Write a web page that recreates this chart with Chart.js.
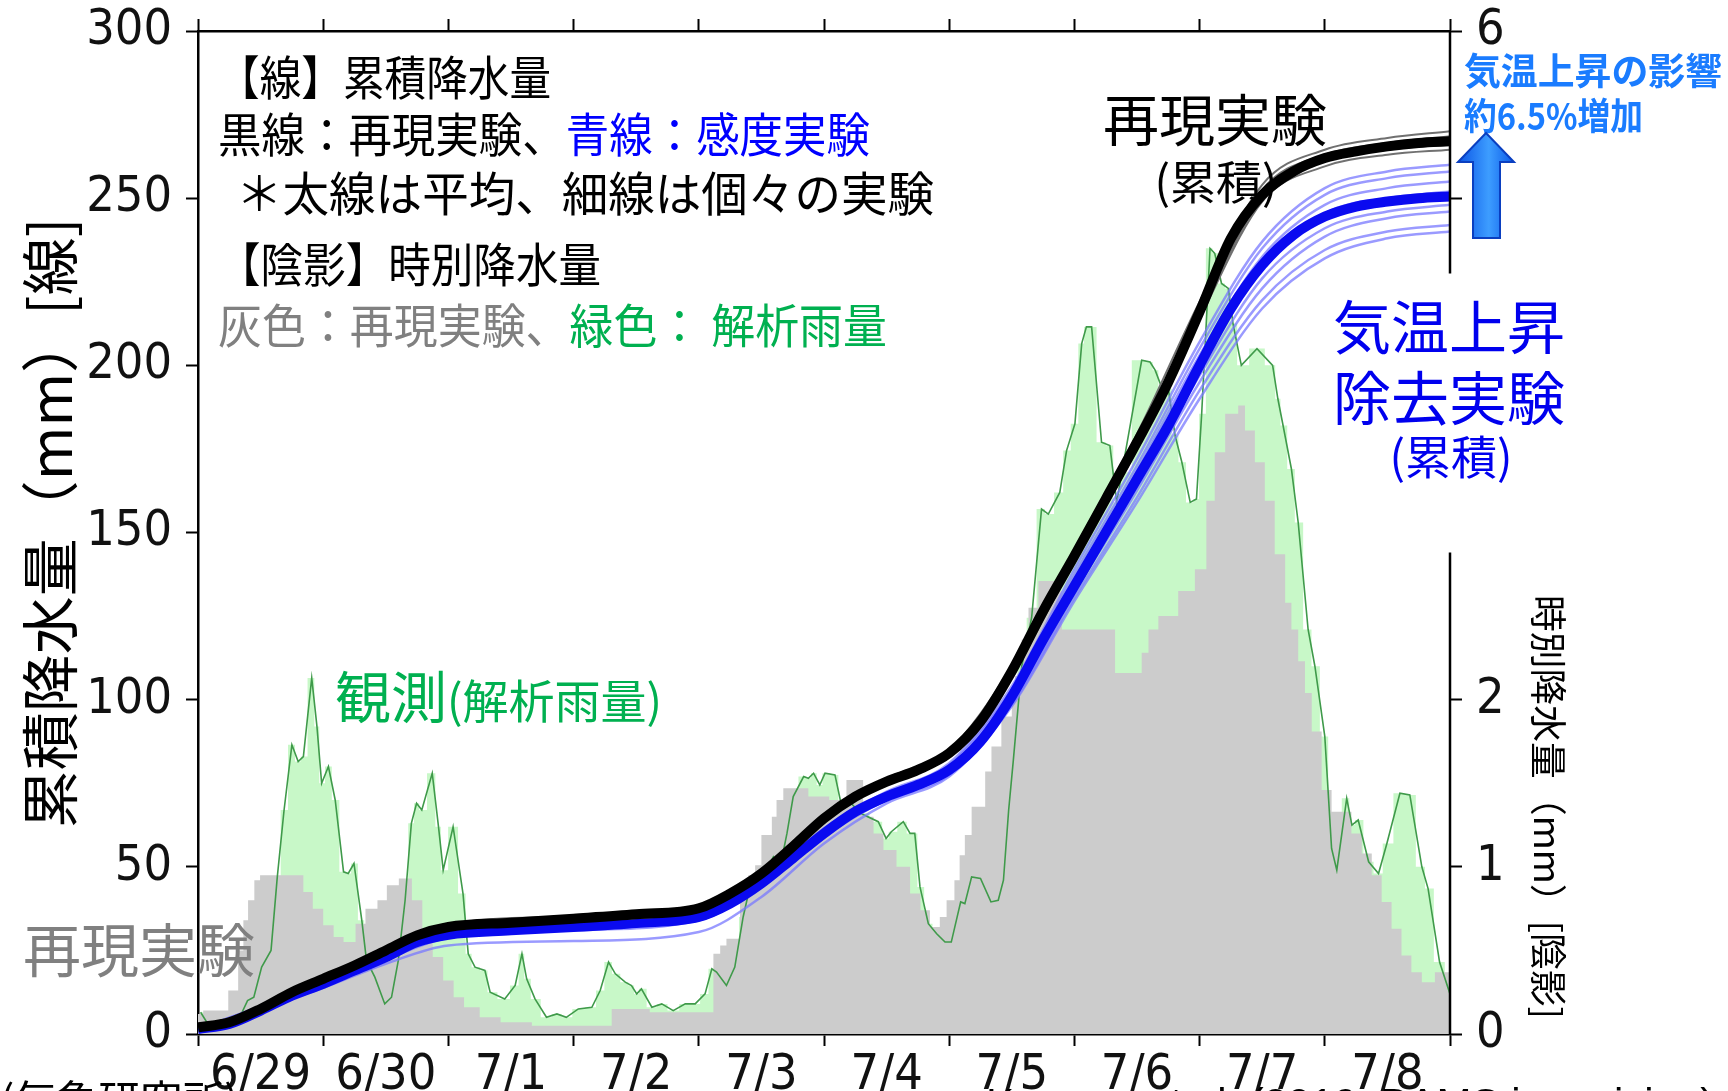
<!DOCTYPE html>
<html lang="ja">
<head>
<meta charset="utf-8">
<title>累積降水量 再現実験と気温上昇除去実験</title>
<script src="https://cdn.jsdelivr.net/npm/chart.js@4.4.1/dist/chart.umd.min.js"></script>
<style>
  html, body { margin: 0; padding: 0; background: #fff; }
  #wrap { position: relative; width: 1728px; height: 1091px; overflow: hidden; }
</style>
</head>
<body>
<div id="wrap"><canvas id="chart"></canvas></div>
<script>
// ---- data ----
const dayLabels = ['6/29', '6/30', '7/1', '7/2', '7/3', '7/4', '7/5', '7/6', '7/7', '7/8'];

// hourly precipitation, simulation (grey shading), mm/h, step starts
const grayHours = [0, 1, 5.8, 7.7, 8.7, 9.6, 10.8, 11.9, 20.2, 22, 24, 26, 27.9, 30.2, 32.1, 34.4, 36.2, 38.5, 41, 43, 45, 47, 49, 51, 54, 58, 64, 79.3, 86.6, 98.8, 100.1, 101.3, 103.9, 105.5, 106.8, 108, 110, 110.9, 112.2, 117, 121, 124.3, 127.5, 129.5, 131.4, 133.9, 136.5, 138.5, 140.3, 142.2, 143.5, 145, 146, 147, 148.3, 150.9, 152.1, 154, 156, 156.6, 157.9, 159.2, 161.1, 164.3, 165.6, 175.8, 180.9, 182.2, 184.1, 187.9, 191.1, 193.3, 194.9, 196.9, 199.4, 200.7, 202.6, 204.5, 206.4, 208.4, 209.6, 210.9, 212.2, 213.5, 215.4, 217.3, 221.1, 223.1, 225, 226.9, 228.8, 230.7, 232.6, 234.6, 237.1, 240];
const grayValues = [0.12, 0.14, 0.26, 0.5, 0.68, 0.8, 0.92, 0.95, 0.85, 0.75, 0.65, 0.58, 0.55, 0.66, 0.75, 0.8, 0.89, 0.93, 0.8, 0.62, 0.46, 0.32, 0.22, 0.16, 0.1, 0.07, 0.05, 0.15, 0.13, 0.48, 0.53, 0.57, 0.85, 0.95, 1.01, 1.19, 1.3, 1.4, 1.47, 1.42, 1.4, 1.52, 1.3, 1.2, 1.1, 1.0, 0.84, 0.74, 0.64, 0.7, 0.8, 0.92, 1.07, 1.19, 1.36, 1.57, 1.72, 1.9, 2.05, 2.14, 2.36, 2.55, 2.71, 2.65, 2.42, 2.16, 2.28, 2.42, 2.5, 2.65, 2.78, 3.19, 3.48, 3.71, 3.76, 3.61, 3.42, 3.19, 2.87, 2.58, 2.42, 2.23, 2.04, 1.81, 1.46, 1.33, 1.2, 1.08, 0.95, 0.79, 0.63, 0.47, 0.37, 0.31, 0.37, 0.37];

// hourly precipitation, radar analysis (green), mm/h
const greenHours = [0.5, 2.3, 5.8, 8, 9.5, 10.7, 12.2, 14, 15.2, 16.5, 18, 19.2, 20.2, 21.8, 22.8, 23.7, 25, 26.3, 27.9, 28.8, 29.9, 31.4, 32.3, 33.9, 35.8, 37.1, 38.4, 39.7, 40.9, 41.9, 42.9, 44.9, 46.1, 47, 48.9, 50.8, 51.8, 53.1, 55, 56, 58.8, 60.8, 62.1, 63, 64.6, 66.8, 68.8, 70.6, 72.9, 75.5, 77.1, 78.7, 80, 81.9, 83.1, 84.1, 85, 87, 88.9, 91.1, 93.4, 95.3, 97.2, 98.5, 99.4, 101.3, 102.9, 104.5, 105.8, 107.7, 110.3, 111.6, 112.9, 114.1, 116.1, 117, 118, 119.2, 120.2, 122.1, 123.4, 124.3, 127, 130.4, 131.9, 132.9, 135.2, 136.5, 137.4, 138.4, 140, 141.6, 143.2, 144.4, 146.2, 147, 148.3, 150, 152, 153.4, 154.4, 155.4, 156.3, 157.9, 159.8, 161.7, 163, 165.2, 166.5, 168.1, 169.4, 170.3, 171.3, 173.2, 174.8, 176.1, 177.1, 180.9, 182.5, 183.5, 184.7, 186, 187.3, 188.6, 190.2, 191.4, 192.4, 194, 194.9, 196.2, 197.5, 198.4, 200, 203, 206, 207, 208, 209.6, 210.9, 212.8, 214.1, 216, 217.3, 218.3, 220.2, 221.2, 222.4, 224.4, 226.3, 227.9, 230.4, 232.3, 234.6, 235.8, 238, 240];
const greenValues = [0.13, 0.04, 0.06, 0.1, 0.2, 0.22, 0.4, 0.5, 0.94, 1.34, 1.73, 1.63, 1.66, 2.13, 1.84, 1.5, 1.6, 1.4, 0.97, 0.96, 1.02, 0.68, 0.44, 0.34, 0.18, 0.22, 0.44, 0.8, 1.26, 1.38, 1.34, 1.56, 1.24, 0.98, 1.24, 0.84, 0.48, 0.4, 0.38, 0.25, 0.21, 0.29, 0.48, 0.33, 0.21, 0.1, 0.12, 0.1, 0.15, 0.16, 0.26, 0.43, 0.36, 0.31, 0.29, 0.24, 0.27, 0.16, 0.18, 0.14, 0.18, 0.18, 0.24, 0.39, 0.37, 0.29, 0.4, 0.7, 0.88, 0.91, 1.06, 1.0, 1.2, 1.42, 1.54, 1.53, 1.56, 1.49, 1.56, 1.55, 1.36, 1.41, 1.32, 1.27, 1.17, 1.21, 1.27, 1.2, 1.2, 0.88, 0.66, 0.6, 0.55, 0.55, 0.79, 0.78, 0.94, 0.93, 0.79, 0.8, 0.92, 1.34, 1.64, 2.2, 2.49, 3.14, 3.11, 3.24, 3.49, 3.65, 4.13, 4.23, 4.23, 3.54, 3.52, 3.18, 3.36, 4.03, 4.02, 3.97, 3.87, 3.86, 3.58, 3.42, 3.18, 3.2, 3.71, 4.7, 4.67, 4.49, 4.46, 4.25, 4.0, 4.1, 4.0, 3.8, 3.64, 3.38, 3.06, 2.42, 2.2, 1.78, 1.11, 0.98, 1.41, 1.25, 1.28, 1.03, 0.96, 1.14, 1.44, 1.43, 1.0, 0.87, 0.43, 0.24];

// accumulated precipitation, ensemble means (mm)
const cumHours = [0, 6, 12, 18, 24, 30, 36, 42, 48, 60, 72, 84, 96, 102, 108, 114, 120, 126, 132, 138, 144, 150, 156, 162, 168, 174, 180, 186, 192, 198, 204, 210, 216, 222, 228, 234, 240];
const ctlMean = [2, 3.5, 7.5, 12.5, 16.5, 20.5, 25, 29.5, 32, 33.3, 34.5, 35.8, 37.6, 42, 48, 56, 64.5, 71, 75.5, 79, 84, 93.5, 108.5, 126.5, 143, 160, 177, 195, 216, 238, 251, 258, 262, 264, 265.5, 266.5, 267];
const sensMean = [1.5, 3, 7, 11.5, 15, 19, 23, 27.5, 29.7, 31, 32, 33.2, 35, 39, 45, 52.5, 60, 66.5, 71, 74.5, 79, 87.5, 101, 118, 134, 150, 166, 182, 200, 217, 230, 239, 244.5, 247.5, 249, 250, 250.5];

// accumulated precipitation, individual members (mm)
const memberHours = [0, 12, 24, 36, 48, 72, 96, 108, 120, 132, 144, 156, 168, 180, 192, 204, 216, 228, 240];
const ctlMember1 = [2, 7.8, 17, 25.8, 32.8, 35.3, 38.5, 49, 65.5, 76.5, 85, 110, 145, 179.5, 219, 254, 264.5, 268, 270];
const ctlMember2 = [2, 7.6, 16.7, 25.3, 32.3, 34.8, 38, 48.5, 65, 76, 84.5, 109, 144, 178, 217.5, 252.5, 263, 266.5, 268.5];
const ctlMember3 = [2, 7.4, 16.3, 24.8, 31.8, 34.3, 37.3, 47.8, 64.2, 75.3, 83.7, 108, 142.3, 176, 215, 250, 261, 264.5, 266];
const ctlMember4 = [2, 7.3, 16.1, 24.5, 31.5, 34, 37, 47.5, 63.8, 75, 83.4, 107.5, 141.5, 175, 214, 249, 259.5, 263, 264.5];
const sensMember1 = [1.5, 8.3, 15.5, 23.7, 30.5, 33, 36, 46, 61.5, 72.5, 81, 104, 139, 172, 207, 237, 253, 258, 260];
const sensMember2 = [1.5, 8.2, 15.3, 23.4, 30.2, 32.6, 35.6, 45.6, 61, 72, 80.5, 103, 137.5, 170, 205, 235, 251, 256, 258];
const sensMember3 = [1.5, 8.1, 15.2, 23.2, 30, 32.3, 35.3, 45.3, 60.5, 71.5, 80, 102, 136, 168.5, 203, 232.5, 248, 253, 255];
const sensMember4 = [1.5, 8, 15, 23, 29.7, 32, 35, 45, 60, 71, 79, 101, 134.5, 166.5, 200.5, 230, 245.5, 250, 252];
const sensMember5 = [1.5, 7.9, 14.8, 22.8, 29.5, 31.8, 34.8, 44.7, 59.6, 70.5, 78.5, 100, 133, 164, 197, 226, 241, 246, 248];
const sensMember6 = [1.5, 8, 14.9, 22.9, 29.6, 31.9, 34.9, 44.8, 59.8, 70.6, 78.2, 99.5, 132, 162.5, 195, 223, 238.5, 244, 246];
const sensMember7 = [1.5, 7.8, 14.5, 22.3, 28.8, 31, 34, 44, 59, 70, 77.5, 98.5, 130.5, 160.5, 192.5, 219.5, 234.5, 240, 242];
const sensMember8 = [1.5, 7.5, 13.8, 21, 26.5, 27.8, 30.5, 41, 57, 69, 77, 98, 129.5, 159, 190, 217, 232, 238, 240];

const ctlMembers = [ctlMember1, ctlMember2, ctlMember3, ctlMember4];
const sensMembers = [sensMember1, sensMember2, sensMember3, sensMember4, sensMember5, sensMember6, sensMember7, sensMember8];

// ---- helpers ----
const CJK = "'Noto Sans CJK JP', 'Noto Sans CJK SC', sans-serif";
const NUM = "'Liberation Sans Narrow', 'DejaVu Sans Condensed', 'Liberation Sans', Arial, sans-serif";
const pts = (xs, ys) => xs.map((x, i) => ({ x, y: ys[i] }));

const lineSet = (data, color, width, order) => ({
  data, borderColor: color, borderWidth: width, pointRadius: 0, fill: false,
  cubicInterpolationMode: 'monotone', xAxisID: 'x', yAxisID: 'y', order,
});

const datasets = [
  // shading (right axis)
  { data: pts(greenHours, greenValues), stepped: 'middle', fill: 'origin', backgroundColor: '#c8f8c8',
    borderWidth: 0, pointRadius: 0, xAxisID: 'x', yAxisID: 'y2', order: 10 },
  { data: pts(grayHours, grayValues), stepped: 'before', fill: 'origin', backgroundColor: '#cccccc',
    borderWidth: 0, pointRadius: 0, xAxisID: 'x', yAxisID: 'y2', order: 9 },
  { data: pts(greenHours, greenValues), fill: false, borderColor: '#3f9a4a', borderWidth: 1.6,
    pointRadius: 0, tension: 0, xAxisID: 'x', yAxisID: 'y2', order: 8 },
  // accumulated (left axis)
  ...sensMembers.map((m) => lineSet(pts(memberHours, m), 'rgba(120,120,255,0.75)', 2.5, 6)),
  lineSet(pts(cumHours, sensMean), '#0a0af0', 10, 5),
  ...ctlMembers.map((m) => lineSet(pts(memberHours, m), '#707070', 2, 4)),
  lineSet(pts(cumHours, ctlMean), '#000000', 10, 2),
];

// rich text: parts = [[text, colour], ...], squeezed horizontally to width if needed
function rich(ctx, parts, x, y, size, width, align, weight, family) {
  ctx.font = `${weight || 'normal'} ${size}px ${family || CJK}`;
  const total = parts.reduce((s, p) => s + ctx.measureText(p[0]).width, 0);
  const k = width ? Math.min(1, width / total) : 1;
  let x0 = x;
  if (align === 'center') x0 = x - (total * k) / 2;
  ctx.save();
  ctx.translate(x0, y);
  ctx.scale(k, 1);
  let cx = 0;
  parts.forEach(([t, c]) => { ctx.fillStyle = c; ctx.fillText(t, cx, 0); cx += ctx.measureText(t).width; });
  ctx.restore();
}

const annotate = {
  id: 'annotate',
  afterDraw(chart) {
    const { ctx, chartArea: ca } = chart;
    const y2 = chart.scales.y2;
    ctx.save();

    // right axis line, broken around the blue label
    ctx.strokeStyle = '#000';
    ctx.lineWidth = 2.5;
    ctx.beginPath();
    ctx.moveTo(ca.right, ca.top - 1);
    ctx.lineTo(ca.right, y2.getPixelForValue(4.55));
    ctx.moveTo(ca.right, y2.getPixelForValue(2.88));
    ctx.lineTo(ca.right, ca.bottom + 1);
    ctx.stroke();

    ctx.textBaseline = 'middle';
    ctx.textAlign = 'left';

    // legend block
    rich(ctx, [['【線】累積降水量', '#000']], 218, 77, 47, 333);
    rich(ctx, [['黒線：再現実験、', '#000'], ['青線：感度実験', '#0000ff']], 218, 134, 47, 652);
    rich(ctx, [['＊太線は平均、細線は個々の実験', '#000']], 236, 193, 47, 698);
    rich(ctx, [['【陰影】時別降水量', '#000']], 218, 264, 47, 383);
    rich(ctx, [['灰色：再現実験、', '#808080'], ['緑色： 解析雨量', '#00b050']], 218, 325, 47, 669);

    // curve labels
    rich(ctx, [['再現実験', '#000']], 1215, 120, 56, 232, 'center');
    rich(ctx, [['(累積)', '#000']], 1216, 182, 46, 128, 'center');
    rich(ctx, [['気温上昇', '#0000ee']], 1449, 327, 58, 232, 'center');
    rich(ctx, [['除去実験', '#0000ee']], 1449, 398, 58, 232, 'center');
    rich(ctx, [['(累積)', '#0000ee']], 1451, 457, 46, 133, 'center');
    rich(ctx, [['観測', '#00b050']], 335, 697, 56, 112);
    rich(ctx, [['(解析雨量)', '#00b050']], 447, 701, 46, 240);
    rich(ctx, [['再現実験', '#808080']], 23, 950, 58, 232);

    // impact note and arrow
    rich(ctx, [['気温上昇の影響', '#1a7cff']], 1464, 71, 37, 258, 'left', 'bold');
    rich(ctx, [['約6.5%増加', '#1a7cff']], 1464, 116, 37, 179, 'left', 'bold');

    const g = ctx.createLinearGradient(1458, 0, 1514, 0);
    g.addColorStop(0, '#0b55e6');
    g.addColorStop(0.55, '#3d9dff');
    g.addColorStop(1, '#0b5ae8');
    ctx.beginPath();
    ctx.moveTo(1486, 133);
    ctx.lineTo(1514, 162);
    ctx.lineTo(1500, 162);
    ctx.lineTo(1500, 238);
    ctx.lineTo(1473, 238);
    ctx.lineTo(1473, 162);
    ctx.lineTo(1458, 162);
    ctx.closePath();
    ctx.fillStyle = g;
    ctx.fill();
    ctx.strokeStyle = '#0a3fc0';
    ctx.lineWidth = 2;
    ctx.stroke();

    // axis titles
    ctx.save();
    ctx.translate(50, 523);
    ctx.rotate(-Math.PI / 2);
    rich(ctx, [['累積降水量（mm）[線]', '#000']], 0, 0, 58, 617, 'center');
    ctx.restore();

    ctx.save();
    ctx.translate(1548, 807);
    ctx.rotate(Math.PI / 2);
    rich(ctx, [['時別降水量（mm）[陰影]', '#000']], 0, 0, 37, 424, 'center');
    ctx.restore();

    // credits, cut by the bottom edge
    ctx.textBaseline = 'alphabetic';
    rich(ctx, [['(気象研究所)', '#000']], 0, 1116, 42);
    rich(ctx, [['Kawase et al. (2019, BAMS in revision)', '#000']], 986, 1118, 42, 729, 'left', 'normal', "'Liberation Sans', Arial, sans-serif");

    ctx.restore();
  },
};

const tickFont = { family: NUM, size: 50 };
// fixed axis boxes so the plot area sits where it does in the figure
const fixV = (w) => (s) => { s.width = w; s.paddingTop = 0; s.paddingBottom = 0; };
const fixH = (h) => (s) => { s.height = h; s.paddingLeft = 0; s.paddingRight = 0; };

new Chart(document.getElementById('chart'), {
  type: 'line',
  data: { datasets },
  options: {
    responsive: true,
    maintainAspectRatio: false,
    animation: false,
    devicePixelRatio: 1,
    layout: { padding: 0 },
    plugins: { legend: { display: false }, tooltip: { enabled: false } },
    scales: {
      x: {
        type: 'linear', position: 'bottom', min: 0, max: 240,
        afterFit: fixH(57),
        ticks: {
          stepSize: 12, autoSkip: false, maxRotation: 0, minRotation: 0, padding: 0,
          color: '#111', font: tickFont,
          callback: (v) => (v % 24 === 12 ? dayLabels[(v - 12) / 24] : ''),
        },
        grid: {
          drawOnChartArea: false, tickLength: 12, tickWidth: 2,
          tickColor: (c) => (c.tick && c.tick.value % 24 === 0 ? '#000' : 'rgba(0,0,0,0)'),
        },
        border: { color: '#000', width: 2.5 },
      },
      xTop: {
        type: 'linear', position: 'top', min: 0, max: 240,
        afterFit: fixH(31),
        ticks: { stepSize: 24, display: false },
        grid: { drawOnChartArea: false, tickLength: 12, tickWidth: 2, tickColor: '#000' },
        border: { color: '#000', width: 2.5 },
      },
      y: {
        type: 'linear', position: 'left', min: 0, max: 300,
        afterFit: fixV(198),
        ticks: { stepSize: 50, padding: 14, color: '#111', font: tickFont },
        grid: { drawOnChartArea: false, tickLength: 12, tickWidth: 2, tickColor: '#000' },
        border: { color: '#000', width: 2.5 },
      },
      y2: {
        type: 'linear', position: 'right', min: 0, max: 6,
        afterFit: fixV(278),
        ticks: {
          stepSize: 1, padding: 14, color: '#111', font: tickFont,
          callback: (v) => ([0, 1, 2, 6].includes(v) ? String(v) : ''),
        },
        grid: {
          drawOnChartArea: false, tickLength: 12, tickWidth: 2,
          tickColor: (c) => (c.tick && (c.tick.value === 3 || c.tick.value === 4) ? 'rgba(0,0,0,0)' : '#000'),
        },
        border: { display: false },
      },
    },
  },
  plugins: [annotate],
});
</script>
</body>
</html>
